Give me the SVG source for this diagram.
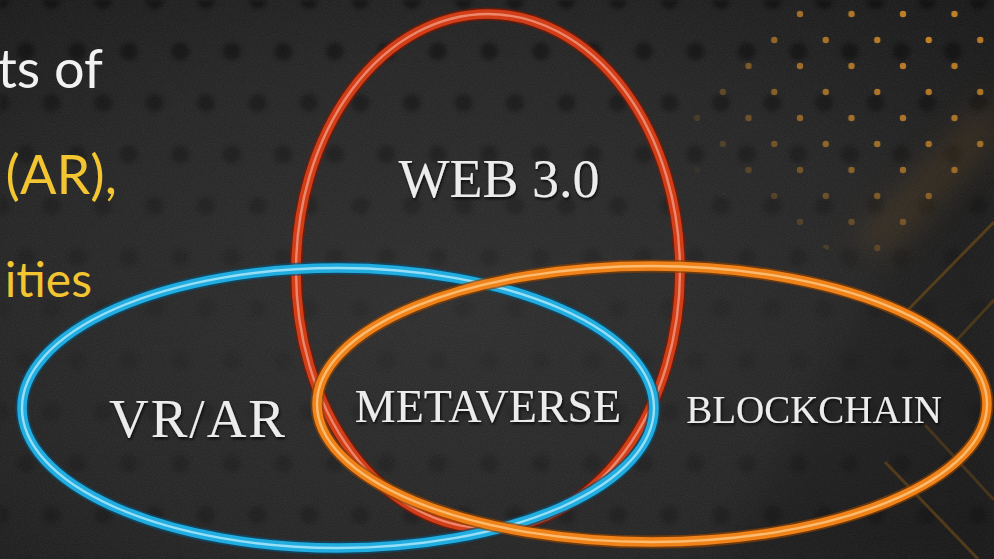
<svg xmlns="http://www.w3.org/2000/svg" width="994" height="559" viewBox="0 0 994 559">
  <defs>
    <style>
      .side { font-family: Lato, "Open Sans", "Liberation Sans", sans-serif; font-size: 54px; text-anchor: end; }
      .small { font-size: 48px; }
      .white { fill: #f2f2f2; }
      .yellow { fill: #f2c531; }
      .lbl { font-family: "Liberation Serif", "DejaVu Serif", serif; fill: #ececec; text-anchor: middle; filter: url(#shadow); }
      .edge { fill: none; stroke-width: 13; opacity: 0.7; }
      .main { fill: none; stroke-width: 9.5; }
      .hl { fill: none; stroke-width: 2.4; opacity: 0.75; }
      .ddot { fill: #000; }
      .odot { fill: #d08a2a; }
      .bline { stroke: #6b4a18; stroke-width: 3; fill: none; }
    </style>
    <radialGradient id="bg" cx="0.45" cy="0.55" r="0.75">
      <stop offset="0" stop-color="#2b2b2b"/>
      <stop offset="0.6" stop-color="#222"/>
      <stop offset="1" stop-color="#151515"/>
    </radialGradient>
    <filter id="noise" x="0" y="0" width="100%" height="100%">
      <feTurbulence type="fractalNoise" baseFrequency="0.9" numOctaves="2" seed="3" result="n"/>
      <feColorMatrix type="matrix" values="0 0 0 0 0.5  0 0 0 0 0.5  0 0 0 0 0.5  0 0 0 0.12 0"/>
    </filter>
    <filter id="shadow" x="-10%" y="-20%" width="120%" height="150%">
      <feDropShadow dx="1" dy="2" stdDeviation="1.5" flood-color="#000" flood-opacity="0.8"/>
    </filter>
    <filter id="blur3" x="-10%" y="-10%" width="120%" height="120%">
      <feGaussianBlur stdDeviation="2"/>
    </filter>
    <filter id="blur12" x="-50%" y="-50%" width="200%" height="200%">
      <feGaussianBlur stdDeviation="14"/>
    </filter>
    <pattern id="darkdots" x="0" y="0" width="51.5" height="103" patternUnits="userSpaceOnUse">
      <circle class="ddot" cx="0" cy="0" r="9"/>
      <circle class="ddot" cx="51.5" cy="0" r="9"/>
      <circle class="ddot" cx="0" cy="103" r="9"/>
      <circle class="ddot" cx="51.5" cy="103" r="9"/>
      <circle class="ddot" cx="25.75" cy="51.5" r="9"/>
    </pattern>
    <pattern id="orangedots" x="800" y="14" width="51.5" height="52" patternUnits="userSpaceOnUse">
      <circle class="odot" cx="0" cy="0" r="3.2"/>
      <circle class="odot" cx="51.5" cy="0" r="3.2"/>
      <circle class="odot" cx="0" cy="52" r="3.2"/>
      <circle class="odot" cx="51.5" cy="52" r="3.2"/>
      <circle class="odot" cx="25.75" cy="26" r="3.2"/>
    </pattern>
    <linearGradient id="ddfade" x1="0" y1="0" x2="0" y2="1">
      <stop offset="0" stop-color="#fff" stop-opacity="0.4"/>
      <stop offset="0.3" stop-color="#fff" stop-opacity="0.2"/>
      <stop offset="0.6" stop-color="#fff" stop-opacity="0.06"/>
      <stop offset="1" stop-color="#fff" stop-opacity="0.2"/>
    </linearGradient>
    <mask id="ddmask">
      <rect width="994" height="559" fill="url(#ddfade)"/>
    </mask>
    <radialGradient id="odfade" cx="930" cy="20" r="290" gradientUnits="userSpaceOnUse">
      <stop offset="0" stop-color="#fff" stop-opacity="0.95"/>
      <stop offset="0.5" stop-color="#fff" stop-opacity="0.7"/>
      <stop offset="1" stop-color="#fff" stop-opacity="0"/>
    </radialGradient>
    <mask id="odmask">
      <polygon points="805,0 994,0 994,150 885,262 850,262 650,155" fill="url(#odfade)"/>
    </mask>
  </defs>

  <!-- background -->
  <g id="background">
    <rect width="994" height="559" fill="url(#bg)"/>
    <rect width="994" height="559" filter="url(#noise)"/>
    <rect width="994" height="559" fill="url(#darkdots)" mask="url(#ddmask)" filter="url(#blur3)"/>
    <polygon points="994,90 994,150 890,255 850,240" fill="#7a5220" opacity="0.22" filter="url(#blur12)"/>
    <polygon points="994,150 994,559 720,559 890,262" fill="#000" opacity="0.12" filter="url(#blur12)"/>
    <rect width="994" height="559" fill="url(#orangedots)" mask="url(#odmask)"/>
    <line class="bline" x1="994" y1="222" x2="900" y2="318" opacity="0.7"/>
    <line class="bline" x1="994" y1="300" x2="955" y2="342" opacity="0.55"/>
    <line class="bline" x1="925" y1="425" x2="994" y2="500" opacity="0.5"/>
    <line class="bline" x1="885" y1="462" x2="978" y2="559" opacity="0.65"/>
  </g>

  <!-- side text (cropped paragraph) -->
  <g id="sidetext">
    <text class="side white" x="103" y="88">ts of</text>
    <text class="side yellow" x="117" y="194">(AR),</text>
    <text class="side small yellow" x="92" y="297">ities</text>
  </g>

  <g id="web3">
    <ellipse class="edge" cx="488" cy="271" rx="192" ry="257" stroke="#7a1804"/>
    <ellipse class="main" cx="488" cy="271" rx="192" ry="257" stroke="#d23e18"/>
    <ellipse class="hl" cx="488" cy="271" rx="192" ry="257" stroke="#f6a088"/>
    <text class="lbl" x="499" y="197" font-size="54">WEB 3.0</text>
  </g>

  <g id="vrar">
    <ellipse class="edge" cx="338" cy="408" rx="316" ry="140" stroke="#0a4f70"/>
    <ellipse class="main" cx="338" cy="408" rx="316" ry="140" stroke="#21ade0"/>
    <ellipse class="hl" cx="338" cy="408" rx="316" ry="140" stroke="#bfefff"/>
    <text class="lbl" x="198" y="437" font-size="55" letter-spacing="2">VR/AR</text>
  </g>

  <g id="blockchain">
    <ellipse class="edge" cx="652" cy="404" rx="335" ry="138" stroke="#8a4204"/>
    <ellipse class="main" cx="652" cy="404" rx="335" ry="138" stroke="#f0821a"/>
    <ellipse class="hl" cx="652" cy="404" rx="335" ry="138" stroke="#ffcf8c"/>
    <text class="lbl" x="814" y="423" font-size="39">BLOCKCHAIN</text>
  </g>

  <g id="metaverse">
    <text class="lbl" x="488" y="422" font-size="46">METAVERSE</text>
  </g>
</svg>
